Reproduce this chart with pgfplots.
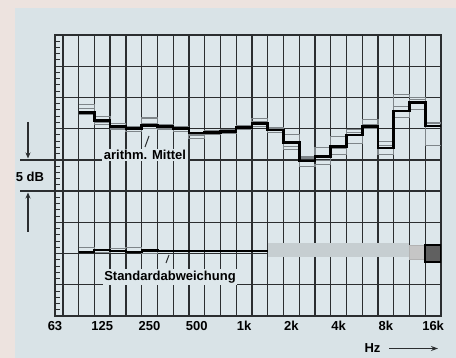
\documentclass[border=0pt]{standalone}
\usepackage{pgfplots}
\pgfplotsset{compat=1.18}
\usetikzlibrary{arrows.meta}
\usepackage{fontspec}
\setmainfont{Liberation Sans}
\definecolor{pinkbg}{HTML}{EDE3DF}
\definecolor{panel}{HTML}{D9E3E7}
\definecolor{plotbg}{HTML}{DDE7EB}
\definecolor{gridc}{HTML}{2B2E30}
\definecolor{indiv}{HTML}{7E8589}
\definecolor{sdband}{HTML}{C6CED1}
\newcommand{\lbl}{\fontsize{13}{15}\selectfont\bfseries}

\begin{document}
\begin{tikzpicture}
\begin{scope}[x=1pt,y=1pt]
\useasboundingbox (0,0) rectangle (456,358);
\fill[pinkbg] (0,0) rectangle (456,358);
\fill[panel] (15,0) rectangle (456,350);
\end{scope}
\begin{axis}[
 at={(55pt,42pt)}, anchor=south west,
 scale only axis, width=386pt, height=281pt,
 xmin=0, xmax=24.5, ymin=0, ymax=45,
 axis background/.style={fill=plotbg},
 xtick={0.5,1.5,...,23.5}, xticklabels={},
 extra x ticks={0,3,6,9,12,15,18,21,24},
 extra x tick labels={63,125,250,500,1k,2k,4k,8k,16k},
 extra x tick style={grid=none, major tick length=0pt},
 ytick={0,5,...,45}, yticklabels={},
 minor y tick num=4,
 ytick pos=left, xtick pos=bottom,
 major tick length=0pt, minor tick length=5pt,
 minor tick style={gridc, line width=1pt},
 grid=major,
 major grid style={gridc, line width=1.3pt},
 axis line style={gridc, line width=1.6pt},
 ticklabel style={font=\lbl, text=black},
 xticklabel style={yshift=-1.5pt},
]
% standard deviation: pale band, hatched cells
\addplot[fill=sdband, draw=none] coordinates {(13.5,9.45) (22.5,9.45) (22.5,11.7) (13.5,11.7)} -- cycle;
\addplot[fill=gray!45, draw=gray!60, line width=0.8pt] coordinates {(22.5,9.0) (23.5,9.0) (23.5,11.3) (22.5,11.3)} -- cycle;
\addplot[fill=gray!75!black, draw=black, line width=1.5pt] coordinates {(23.5,8.65) (24.5,8.65) (24.5,11.4) (23.5,11.4)} -- cycle;
\addplot[const plot, indiv, line width=1pt] coordinates {
 (1.5,10.9) (2.5,10.1) (3.5,10.8) (4.5,10.9) (5.5,10.0) (6.5,10.5) (7.5,10.5)};
\addplot[const plot, black, line width=2.2pt] coordinates {
 (1.5,10.3) (2.5,10.6) (3.5,10.4) (4.5,10.3) (5.5,10.5) (6.5,10.4) (7.5,10.4)
 (8.5,10.4) (9.5,10.4) (10.5,10.4) (11.5,10.4) (12.5,10.4) (13.5,10.4)};
% individual measurements
\addplot[const plot, indiv, line width=1.1pt] coordinates {
 (1.5,33.8) (2.5,32.0) (3.5,30.8) (4.5,30.4) (5.5,31.7) (6.5,30.6) (7.5,30.3)
 (8.5,29.0) (9.5,29.7) (10.5,29.8) (11.5,30.5) (12.5,31.6) (13.5,30.2) (14.5,29.0)
 (15.5,25.6) (16.5,27.0) (17.5,28.8) (18.5,29.9) (19.5,31.4) (20.5,28.0) (21.5,35.5)
 (22.5,35.0) (23.5,31.0) (24.5,31.0)};
\addplot[const plot, indiv, line width=1.1pt] coordinates {
 (1.5,33.2) (2.5,30.7) (3.5,30.0) (4.5,29.6) (5.5,30.8) (6.5,30.0) (7.5,29.6)
 (8.5,28.9) (9.5,29.1) (10.5,29.2) (11.5,30.0) (12.5,31.2) (13.5,30.0) (14.5,27.2)
 (15.5,25.3) (16.5,24.9) (17.5,26.8) (18.5,29.4) (19.5,30.6) (20.5,27.3) (21.5,33.6)
 (22.5,34.7) (23.5,30.8) (24.5,30.8)};
\addplot[const plot, indiv, line width=1.1pt] coordinates {
 (1.5,32.2) (2.5,31.0) (3.5,29.9) (4.5,29.8) (5.5,30.0) (6.5,29.9) (7.5,29.8)
 (8.5,28.4) (9.5,29.0) (10.5,29.3) (11.5,29.9) (12.5,30.4) (13.5,29.4) (14.5,26.7)
 (15.5,24.0) (16.5,24.3) (17.5,25.8) (18.5,27.6) (19.5,30.0) (20.5,25.9) (21.5,31.8)
 (22.5,33.0) (23.5,27.3) (24.5,27.3)};
% arithmetic mean
\addplot[const plot, black, line width=2.6pt] coordinates {
 (1.5,32.6) (2.5,31.3) (3.5,30.3) (4.5,30.0) (5.5,30.5) (6.5,30.3) (7.5,30.0)
 (8.5,29.3) (9.5,29.4) (10.5,29.5) (11.5,30.2) (12.5,30.8) (13.5,29.8) (14.5,27.8)
 (15.5,24.8) (16.5,25.5) (17.5,27.1) (18.5,29.0) (19.5,30.3) (20.5,26.9) (21.5,32.8)
 (22.5,34.2) (23.5,30.4) (24.5,30.4)};
\end{axis}
\begin{scope}[x=1pt,y=1pt]
% labels
\node[fill=plotbg, inner sep=1.5pt, font=\lbl] at (145,203) {arithm. Mittel};
\draw[gridc, line width=1pt] (149,222) -- (145,211);
\node[fill=plotbg, inner sep=1.5pt, font=\lbl] at (170,81) {Standardabweichung};
\draw[gridc, line width=1pt] (169,103) -- (166,95);
% 5 dB scale indicator
\draw[gridc, line width=1.3pt] (20,198.1) -- (55,198.1);
\draw[gridc, line width=1.3pt] (20,166.9) -- (55,166.9);
\node[font=\lbl] at (30,181) {5 dB};
\draw[gridc, line width=1.2pt, -{Stealth[length=6pt,width=5pt]}] (28,236) -- (28,199.5);
\draw[gridc, line width=1.2pt, -{Stealth[length=6pt,width=5pt]}] (28,126) -- (28,165.5);
% frequency unit
\node[font=\lbl, anchor=west] at (361,9.5) {Hz};
\draw[gridc, line width=1.3pt, -{Stealth[length=7pt,width=5pt]}] (389,9.5) -- (438,9.5);
\end{scope}
\end{tikzpicture}
\end{document}
